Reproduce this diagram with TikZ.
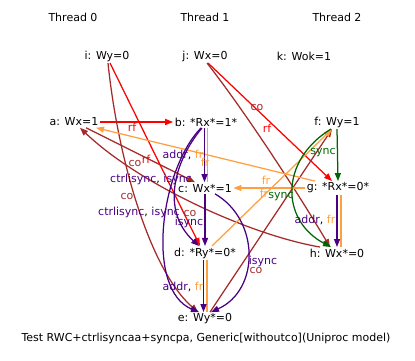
\documentclass[tikz,border=0pt]{standalone}
\usepackage{fontspec}
\setmainfont{DejaVu Sans}
\usetikzlibrary{arrows.meta}
\definecolor{rfc}{HTML}{FF0000}
\definecolor{coc}{HTML}{A52A2A}
\definecolor{frc}{HTML}{FFA040}
\definecolor{ind}{HTML}{4B0082}
\definecolor{syc}{HTML}{006400}
\tikzset{
  ev/.style={inner sep=1.5pt, font=\fontsize{11}{13}\selectfont},
  lab/.style={inner sep=0pt, font=\fontsize{11}{13}\selectfont},
  edge/.style={line width=1.25pt, -{Triangle[length=8pt,width=6pt]}},
  plain/.style={line width=1.25pt},
}
\begin{document}
\begin{tikzpicture}[x=1pt,y=-1pt]
\useasboundingbox (0,0) rectangle (415,361);
% headers
\node[ev] (t0) at (73,17) {Thread 0};
\node[ev] (t1) at (205,17) {Thread 1};
\node[ev] (t2) at (337,17) {Thread 2};
% events
\node[ev] (i) at (107,56) {i: Wy=0};
\node[ev] (j) at (205,56) {j: Wx=0};
\node[ev] (k) at (304,56) {k: Wok=1};
\node[ev] (a) at (74,122) {a: Wx=1};
\node[ev] (b) at (206,122) {b: *Rx*=1*};
\node[ev] (f) at (337,122) {f: Wy=1};
\node[ev] (c) at (205,188) {c: Wx*=1};
\node[ev] (g) at (338,188) {g: *Rx*=0*};
\node[ev] (d) at (205,253) {d: *Ry*=0*};
\node[ev] (h) at (337,253) {h: Wx*=0};
\node[ev] (e) at (205,319) {e: Wy*=0};
\node[ev] (cap) at (206,338) {Test RWC+ctrlisyncaa+syncpa, Generic[withoutco](Uniproc model)};

% rf
\draw[edge,rfc] (a.east) -- (b.west);
\draw[edge,rfc] ([xshift=3pt]i.south) -- ([xshift=-5pt]d.north);
\draw[edge,rfc] ([xshift=3pt]j.south) -- ([xshift=-6pt]g.north);
% co
\draw[edge,coc] ([xshift=1pt]i.south) .. controls (118,160) and (150,270) .. ([xshift=-7pt]e.north);
\draw[edge,coc] ([xshift=2pt]j.south) .. controls (240,105) and (290,180) .. ([xshift=-7pt]h.north);
\draw[edge,coc] ([xshift=12pt]a.south) -- ([xshift=-10pt]c.north);
\draw[edge,coc] ([xshift=-17pt]h.north) .. controls (250,235) and (140,185) .. ([xshift=6pt]a.south);
\draw[edge,coc] ([xshift=5pt]e.north) -- ([xshift=-5pt]f.south);
% fr
\draw[edge,frc] ([xshift=-23pt]g.north) -- ([xshift=-4pt]a.south east);
\draw[edge,frc] (g.west) -- (c.east);
\draw[edge,frc] ([xshift=7pt]d.north) -- ([xshift=-5pt]f.south);
% sync
\draw[edge,syc] (f.south) -- (g.north);
\draw[edge,syc] ([xshift=-6pt]f.south) .. controls (280,160) and (280,220) .. ([xshift=-6pt]h.north);
% addr, fr pairs
\draw[plain,frc] ([xshift=1.5pt]b.south) -- ([xshift=2.5pt]c.north);
\draw[edge,ind] ([xshift=-1.5pt]b.south) -- ([xshift=-0.5pt]c.north);
\draw[plain,frc] ([xshift=3pt]g.south) -- ([xshift=4pt]h.north);
\draw[edge,ind] ([xshift=-1pt]g.south) -- (h.north);
\draw[plain,frc] ([xshift=2pt]d.south) -- ([xshift=2pt]e.north);
\draw[edge,ind] ([xshift=-1.5pt]d.south) -- ([xshift=-1.5pt]e.north);
% isync / ctrlisync
\draw[edge,ind] (c.south) -- (d.north);
\draw[edge,ind] ([xshift=-4pt]b.south) .. controls (175,160) and (160,210) .. ([xshift=-6pt]d.north);
\draw[edge,ind] ([xshift=-5pt]b.south) .. controls (160,170) and (145,290) .. ([xshift=-6pt]e.north);
\draw[edge,ind] ([xshift=10pt]c.south) .. controls (260,220) and (260,290) .. ([xshift=6pt]e.north);

% labels
\node[lab,text=rfc] (l1) at (132,127) {rf};
\node[lab,text=rfc] (l2) at (146,159) {rf};
\node[lab,text=coc] (l3) at (135,163) {co};
\node[lab,text=coc] (l4) at (127,196) {co};
\node[lab,text=coc] (l5) at (190,213) {co};
\node[lab,text=coc] (l6) at (257,107) {co};
\node[lab,text=rfc] (l7) at (267,128) {rf};
\node[lab,text=coc] (l8) at (256,270) {co};
\node[lab,text=frc] (l9) at (205,162) {fr};
\node[lab,text=frc] (l10) at (266,180) {fr};
\node[lab,text=frc] (l11) at (264,193) {fr};
\node[lab,text=syc] (l12) at (323,153) {sync};
\node[lab,text=syc] (l13) at (281,197) {sync};
\node[lab] (l14) at (183,155) {\textcolor{ind}{addr}, \textcolor{frc}{fr}};
\node[lab] (l15) at (315,220) {\textcolor{ind}{addr}, \textcolor{frc}{fr}};
\node[lab] (l16) at (183,287) {\textcolor{ind}{addr}, \textcolor{frc}{fr}};
\node[lab] (l17) at (151,179) {\textcolor{ind}{ctrlisync}, \textcolor{ind}{isync}};
\node[lab] (l18) at (139,212) {\textcolor{ind}{ctrlisync}, \textcolor{ind}{isync}};
\node[lab,text=ind] (l19) at (189,222) {isync};
\node[lab,text=ind] (l20) at (263,261) {isync};
\end{tikzpicture}
\end{document}
